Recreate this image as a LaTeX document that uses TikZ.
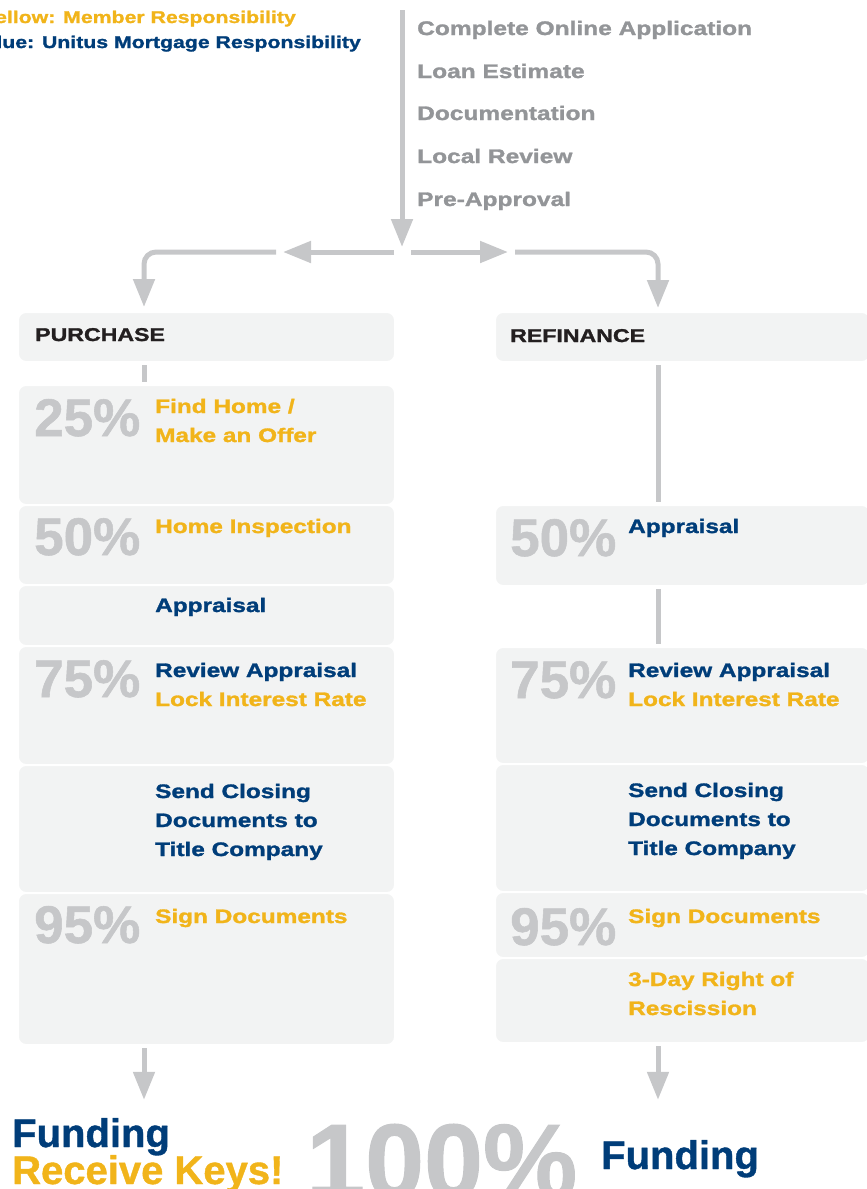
\documentclass[tikz,border=0pt]{standalone}
\usepackage{fontspec}
\usepackage{tikz}
\usetikzlibrary{arrows.meta,positioning}
\newfontfamily\widesans{Liberation Sans}[FakeStretch=1.25,FakeBold=1.5]
\newfontfamily\plainsans{Liberation Sans}[FakeBold=1]
\definecolor{arrowgrey}{RGB}{198,199,201}
\definecolor{textgrey}{RGB}{147,149,152}
\definecolor{boxgrey}{RGB}{242,243,243}
\definecolor{memberyellow}{RGB}{241,180,26}
\definecolor{unitusblue}{RGB}{0,61,121}
\definecolor{headblack}{RGB}{35,31,32}

\begin{document}
\begin{tikzpicture}[x=1pt, y=-1pt,
  box/.style = {rectangle, rounded corners=8pt, fill=boxgrey, draw=white, line width=2pt, anchor=north west, inner sep=0pt, outer sep=0pt},
  link/.style = {draw=arrowgrey, line width=5pt},
  arr/.style = {link, -{Triangle[length=28pt,width=21pt]}},
  steptext/.style = {anchor=base west, inner sep=0pt, align=left, font=\widesans\bfseries\fontsize{19.5}{29}\selectfont},
  member/.style = {steptext, text=memberyellow},
  unitus/.style = {steptext, text=unitusblue},
  pct/.style = {anchor=base west, inner sep=0pt, text=arrowgrey, font=\plainsans\bfseries\fontsize{53}{53}\selectfont},
  listitem/.style = {anchor=base west, inner sep=0pt, text=textgrey, font=\widesans\bfseries\fontsize{19.6}{20}\selectfont},
  head/.style = {anchor=base west, inner sep=0pt, text=headblack, font=\widesans\bfseries\fontsize{18.5}{20}\selectfont},
  legend/.style = {anchor=base east, inner sep=0pt, font=\widesans\bfseries\fontsize{17}{18}\selectfont},
  final/.style = {anchor=base west, inner sep=0pt, font=\plainsans\bfseries\fontsize{40}{40}\selectfont}]
\useasboundingbox (0,0) rectangle (867,1189);
\clip (0,0) rectangle (867,1189);

\node[legend, text=memberyellow] (ylegend) at (296,23) {Yellow: Member Responsibility};
\node[legend, text=unitusblue] (blegend) at (361,48) {Blue: Unitus Mortgage Responsibility};

\node[listitem] (apply) at (417,35) {Complete Online Application};
\node[listitem] (estimate) at (417,78) {Loan Estimate};
\node[listitem] (docs) at (417,120) {Documentation};
\node[listitem] (local) at (417,163) {Local Review};
\node[listitem] (preapp) at (417,206) {Pre-Approval};

\node[box, minimum width=377pt, minimum height=50pt] (purchase) at (18,312) {};
\node[box, minimum width=377pt, minimum height=120pt] (p25) at (18,385) {};
\node[box, minimum width=377pt, minimum height=80pt] (p50) at (p25.south west) {};
\node[box, minimum width=377pt, minimum height=61pt] (pappr) at (p50.south west) {};
\node[box, minimum width=377pt, minimum height=119pt] (p75) at (pappr.south west) {};
\node[box, minimum width=377pt, minimum height=128pt] (pclose) at (p75.south west) {};
\node[box, minimum width=377pt, minimum height=152pt] (p95) at (pclose.south west) {};

\node[box, minimum width=375pt, minimum height=50pt] (refinance) at (495,312) {};
\node[box, minimum width=375pt, minimum height=81pt] (r50) at (495,505) {};
\node[box, minimum width=375pt, minimum height=117pt] (r75) at (495,647) {};
\node[box, minimum width=375pt, minimum height=128pt] (rclose) at (r75.south west) {};
\node[box, minimum width=375pt, minimum height=66pt] (r95) at (rclose.south west) {};
\node[box, minimum width=375pt, minimum height=85pt] (rresc) at (r95.south west) {};

\node[head] (purchtxt) at (35,341) {PURCHASE};
\node[head] (refitxt) at (510,342) {REFINANCE};

\node[pct] (l25) at (34,436) {25\%};
\node[member] (find) at (155,442) {Find Home /\\Make an Offer};
\node[pct] (l50) at (34,555) {50\%};
\node[member] (inspect) at (155,533) {Home Inspection};
\node[unitus] (lappr) at (155,612) {Appraisal};
\node[pct] (l75) at (34,697) {75\%};
\node[unitus] (lreview) at (155,706) {Review Appraisal\\\textcolor{memberyellow}{Lock Interest Rate}};
\node[unitus] (lsend) at (155,856) {Send Closing\\Documents to\\Title Company};
\node[pct] (l95) at (34,943) {95\%};
\node[member] (lsign) at (155,923) {Sign Documents};

\node[pct] (r50txt) at (510,556) {50\%};
\node[unitus] (rappr) at (628,533) {Appraisal};
\node[pct] (r75txt) at (510,698) {75\%};
\node[unitus] (rreview) at (628,706) {Review Appraisal\\\textcolor{memberyellow}{Lock Interest Rate}};
\node[unitus] (rsend) at (628,855) {Send Closing\\Documents to\\Title Company};
\node[pct] (r95txt) at (510,945) {95\%};
\node[member] (rsign) at (628,923) {Sign Documents};
\node[member] (rresctxt) at (628,1015) {3-Day Right of\\Rescission};

\node[final, text=unitusblue] (fundl) at (12,1147) {Funding};
\node[final, text=memberyellow] (keys) at (12,1184) {Receive Keys!};
\node[pct, font=\plainsans\bfseries\fontsize{106}{106}\selectfont] (full) at (306,1198) {100\%};
\node[final, text=unitusblue] (fundr) at (601,1169) {Funding};

\coordinate (top) at (402,10);
\coordinate (split) at (402,247);
\coordinate (lstart) at (394,252);
\coordinate (ltip) at (283,252);
\coordinate (lbend) at (276,252);
\coordinate (rstart) at (411,252);
\coordinate (rtip) at (508,252);
\coordinate (rbend) at (515,252);
\coordinate (lcol) at (144,0);
\coordinate (rcol) at (658,0);

\draw[arr] (top) -- (split);
\draw[arr] (lstart) -- (ltip);
\draw[arr] (rstart) -- (rtip);
\draw[arr, rounded corners=12pt, shorten >=5pt] (lbend) -| (purchase.north -| lcol);
\draw[arr, rounded corners=12pt, shorten >=4pt] (rbend) -| (refinance.north -| rcol);
\draw[link, shorten <=3pt, shorten >=3pt] (purchase.south -| lcol) -- (p25.north -| lcol);
\draw[link, shorten <=3pt, shorten >=3pt] (refinance.south -| rcol) -- (r50.north -| rcol);
\draw[link, shorten <=3pt, shorten >=3pt] (r50.south -| rcol) -- (r75.north -| rcol);
\draw[arr, shorten <=3pt, shorten >=18pt] (p95.south -| lcol) -- (fundl.north -| lcol);
\draw[arr, shorten <=3pt, shorten >=40pt] (rresc.south -| rcol) -- (fundr.north -| rcol);
\end{tikzpicture}
\end{document}
